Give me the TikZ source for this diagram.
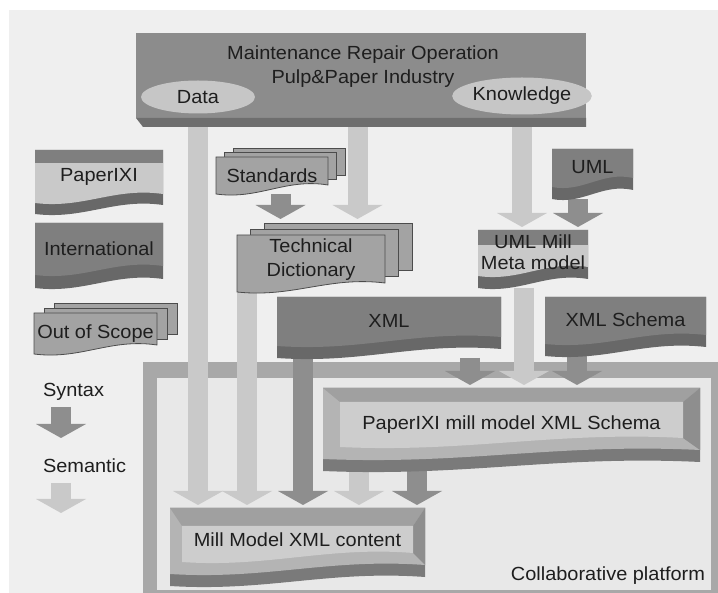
\documentclass[tikz,border=0pt]{standalone}
\usepackage{fontspec}
\setmainfont{Liberation Sans}[FakeStretch=1.05]
\usetikzlibrary{arrows.meta,calc,shapes.geometric}

\definecolor{ink}{HTML}{1E1E1E}
\definecolor{pagecol}{HTML}{EFEFEF}
\definecolor{topcol}{HTML}{8C8C8C}
\definecolor{topdark}{HTML}{6E6E6E}
\definecolor{ovalcol}{HTML}{C6C6C6}
\definecolor{darkcol}{HTML}{7F7F7F}
\definecolor{darkband}{HTML}{686868}
\definecolor{lightcol}{HTML}{C9C9C9}
\definecolor{stackcol}{HTML}{A3A3A3}
\definecolor{framecol}{HTML}{A8A8A8}
\definecolor{platecol}{HTML}{E8E8E8}
\definecolor{semcol}{HTML}{C9C9C9}
\definecolor{syncol}{HTML}{8E8E8E}
\definecolor{bevtop}{HTML}{A0A0A0}
\definecolor{bevleft}{HTML}{B4B4B4}
\definecolor{bevright}{HTML}{8E8E8E}
\definecolor{bevbot}{HTML}{7A7A7A}
\definecolor{bevin}{HTML}{CDCDCD}

\pgfdeclarelayer{bg}
\pgfdeclarelayer{arr}
\pgfdeclarelayer{boxes}
\pgfsetlayers{bg,arr,boxes,main}

\newcommand\boxfont{\fontsize{19}{24}\selectfont}

% outline of a node with a wavy bottom edge
\newcommand\wavepath[5]{%
  \path[#1] ($(#2.north west)+(#3,#4)$) -- ($(#2.north east)+(-#3,#4)$)
    -- ($(#2.south east)+(-#3,-9-#5)$)
    .. controls ($(#2.south west)!0.62!(#2.south east)+(0,-16-#5)$)
       and ($(#2.south west)!0.38!(#2.south east)+(0,6-#5)$)
    .. ($(#2.south west)+(#3,-#5)$) -- cycle;}

% two sheets behind a document stack
\newcommand\stackback[3]{%
  \path[stackback] ($(#1.north west)+(2*#2,2*#3)$) rectangle ($(#1.south east)+(2*#2,2*#3-10)$);
  \path[stackback] ($(#1.north west)+(#2,#3)$) rectangle ($(#1.south east)+(#2,#3-10)$);}

% bevelled block
\newcommand\bevelbox[3]{%
  \wavepath{fill=bevbot}{#1}{0}{0}{0}
  \wavepath{fill=bevleft}{#1}{0}{0}{12}
  \path[fill=bevtop] (#1.north west) -- (#1.north east) -- ($(#1.north east)+(-#2,#3)$) -- ($(#1.north west)+(#2,#3)$) -- cycle;
  \path[fill=bevright] (#1.north east) -- ($(#1.north east)+(-#2,#3)$) -- ($(#1.south east)+(-#2,-33)$) -- ($(#1.south east)+(0,-21)$) -- cycle;
  \wavepath{fill=bevin}{#1}{#2}{#3}{24}}

\tikzset{
  boxtext/.style={font=\boxfont, text=ink, inner sep=0pt, outer sep=0pt},
  halfh/.style={text height=#1pt, text depth=#1pt},
  oval/.style={ellipse, fill=ovalcol, boxtext},
  stackback/.style={fill=stackcol, draw=black!70, line width=0.8pt},
  fat/.style={line width=20pt, shorten >=3pt, -{Triangle[width=50pt,length=14pt,line width=0pt]}},
  sem/.style={fat, draw=semcol},
  syn/.style={fat, draw=syncol},
}

\begin{document}
\begin{tikzpicture}[x=1pt,y=-1pt]
\useasboundingbox (0,0) rectangle (718,593);

% blocks
\node[boxtext, minimum width=450pt, minimum height=94pt] (mro) at (361,80) {};
\node[boxtext, align=center] (mrotxt) at (363,66.5) {Maintenance Repair Operation\\Pulp\&Paper Industry};
\node[oval, minimum width=114pt, minimum height=33pt] (data) at (198,97) {Data};
\node[oval, minimum width=115pt, minimum height=37pt] (know) at (522,96) {Knowledge};

\node[boxtext, minimum width=128pt, halfh=32] (paperixi) at (99,182) {PaperIXI};
\node[boxtext, minimum width=128pt, halfh=32.5] (intl) at (99,255.5) {International};
\node[boxtext, minimum width=123pt, minimum height=41pt] (oos) at (95.5,333.5) {Out of Scope};

\node[boxtext, minimum width=112pt, minimum height=37pt] (std) at (272,175.5) {Standards};
\node[boxtext, align=center, minimum width=148pt, text height=42pt, text depth=15pt] (td) at (311,263.5) {Technical\\Dictionary};
\node[boxtext, minimum width=81pt, halfh=25] (uml) at (592.5,174) {UML};
\node[boxtext, align=center, minimum width=110pt, text height=40pt, text depth=18pt] (umlmeta) at (533,259) {UML Mill\\[-3pt]Meta model};
\node[boxtext, minimum width=224pt, halfh=30.5] (xml) at (389,327.5) {XML};
\node[boxtext, minimum width=161pt, halfh=29.5] (xsd) at (625.5,326.5) {XML Schema};
\node[boxtext, minimum width=377pt, halfh=41.5] (pim) at (511.5,429.5) {PaperIXI mill model XML Schema};
\node[boxtext, minimum width=255pt, halfh=39] (mill) at (297.5,547) {Mill Model XML content};

% legend
\node[boxtext, anchor=base west] (syntax) at (43,397) {Syntax};
\node[boxtext, anchor=base west] (semantic) at (43,473) {Semantic};
\node[boxtext, anchor=base east] (collab) at (705,580) {Collaborative platform};
\coordinate (synA) at (61,407);
\coordinate (synB) at (61,438);
\coordinate (semA) at (61,483);
\coordinate (semB) at (61,513);

\begin{pgfonlayer}{bg}
\fill[white] (0,0) rectangle (718,593);
\fill[pagecol] (9,10) rectangle (718,593);
\fill[framecol] (143,362) rectangle (718,593);
\fill[platecol] (157,378) rectangle (711,590);
\end{pgfonlayer}

\begin{pgfonlayer}{boxes}
\fill[topcol] (mro.north west) rectangle ($(mro.south east)+(0,-9)$);
\fill[topdark] ($(mro.south west)+(0,-9)$) -- ($(mro.south east)+(0,-9)$) -- (mro.south east) -- ($(mro.south west)+(7,0)$) -- cycle;

\wavepath{fill=darkband}{paperixi}{0}{0}{0}
\wavepath{fill=lightcol}{paperixi}{0}{0}{11}
\fill[darkcol] (paperixi.north west) rectangle ($(paperixi.north east)+(0,13)$);
\wavepath{fill=darkband}{intl}{0}{0}{0}
\wavepath{fill=darkcol}{intl}{0}{0}{13}
\wavepath{fill=darkband}{uml}{0}{0}{0}
\wavepath{fill=darkcol}{uml}{0}{0}{12}
\wavepath{fill=darkband}{xml}{0}{0}{0}
\wavepath{fill=darkcol}{xml}{0}{0}{12}
\wavepath{fill=darkband}{xsd}{0}{0}{0}
\wavepath{fill=darkcol}{xsd}{0}{0}{12}
\wavepath{fill=darkband}{umlmeta}{0}{0}{0}
\wavepath{fill=lightcol}{umlmeta}{0}{0}{12}
\fill[darkcol] (umlmeta.north west) rectangle ($(umlmeta.north east)+(0,15)$);

\stackback{std}{8.5}{-4.5}
\wavepath{stackback}{std}{0}{0}{0}
\stackback{td}{13.5}{-6}
\wavepath{stackback}{td}{0}{0}{0}
\stackback{oos}{10}{-5}
\wavepath{stackback}{oos}{0}{0}{0}

\bevelbox{pim}{17}{14}
\bevelbox{mill}{12}{18}
\end{pgfonlayer}

\begin{pgfonlayer}{arr}
\draw[sem] (data |- mro.south) -- (data |- mill.north);
\draw[sem, shorten >=16pt] ([xshift=-3.5pt]mro.south) -- ([xshift=46.5pt]td.north);
\draw[syn, shorten >=16pt] ([xshift=8.5pt]std.south) -- ([xshift=-30.5pt]td.north);
\draw[sem] (know |- mro.south) -- (know |- umlmeta.north);
\draw[syn] ([xshift=-14.5pt]uml.south) -- ([xshift=45pt]umlmeta.north);
\draw[syn] ([xshift=81pt]xml.south) -- ([xshift=-41.5pt]pim.north);
\draw[sem] ([xshift=-9pt]umlmeta.south) -- ([xshift=12.5pt]pim.north);
\draw[syn] ([xshift=-48.5pt]xsd.south) -- ([xshift=65.5pt]pim.north);
\draw[sem] ([xshift=-64pt]td.south) -- ([xshift=-50.5pt]mill.north);
\draw[syn] ([xshift=-86pt]xml.south) -- ([xshift=5.5pt]mill.north);
\draw[sem] ([xshift=-152.5pt]pim.south) -- ([xshift=61.5pt]mill.north);
\draw[syn] ([xshift=-94.5pt]pim.south) -- ([xshift=119.5pt]mill.north);
\draw[syn, shorten >=0pt] (synA) -- (synB);
\draw[sem, shorten >=0pt] (semA) -- (semB);
\end{pgfonlayer}
\end{tikzpicture}
\end{document}
